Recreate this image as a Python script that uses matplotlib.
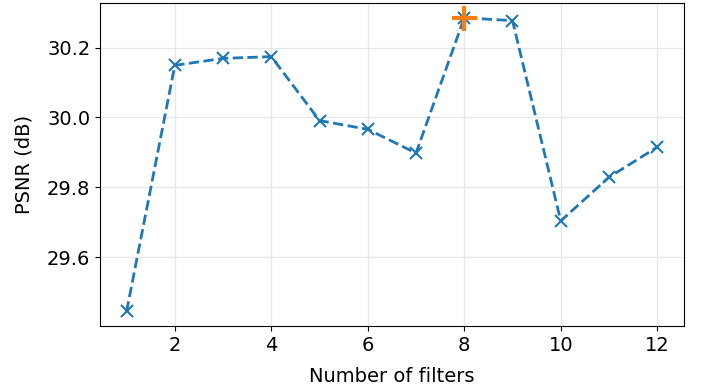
import matplotlib
matplotlib.use("Agg")
import matplotlib.pyplot as plt

# ── Data ──────────────────────────────────────────────────────────────────────
n_filters = [1, 2, 3, 4, 5, 6, 7, 8, 9, 10, 11, 12]
psnr = [29.445, 30.149, 30.169, 30.174, 29.991, 29.966, 29.898,
        30.285, 30.277, 29.704, 29.829, 29.915]
best_idx = 7

fig = plt.figure(figsize=(7.02, 3.92), dpi=100)
ax = fig.add_axes([0.1425, 0.168, 0.8315, 0.824])

ax.plot(n_filters, psnr, "x--", color="#1f77b4", lw=2, ms=8, mew=1.5)
ax.plot(n_filters[best_idx], psnr[best_idx], "+", color="#ff7f0e",
        ms=18, mew=3)

ax.grid(True, color="#e8e8e8", lw=1)
ax.set_axisbelow(True)
ax.set_xticks([2, 4, 6, 8, 10, 12])
ax.set_yticks([29.6, 29.8, 30.0, 30.2])
ax.tick_params(labelsize=14)
ax.set_xlabel("Number of filters", fontsize=14, labelpad=9)
ax.set_ylabel("PSNR (dB)", fontsize=14, labelpad=10)

fig.savefig("out.png", dpi=100)
